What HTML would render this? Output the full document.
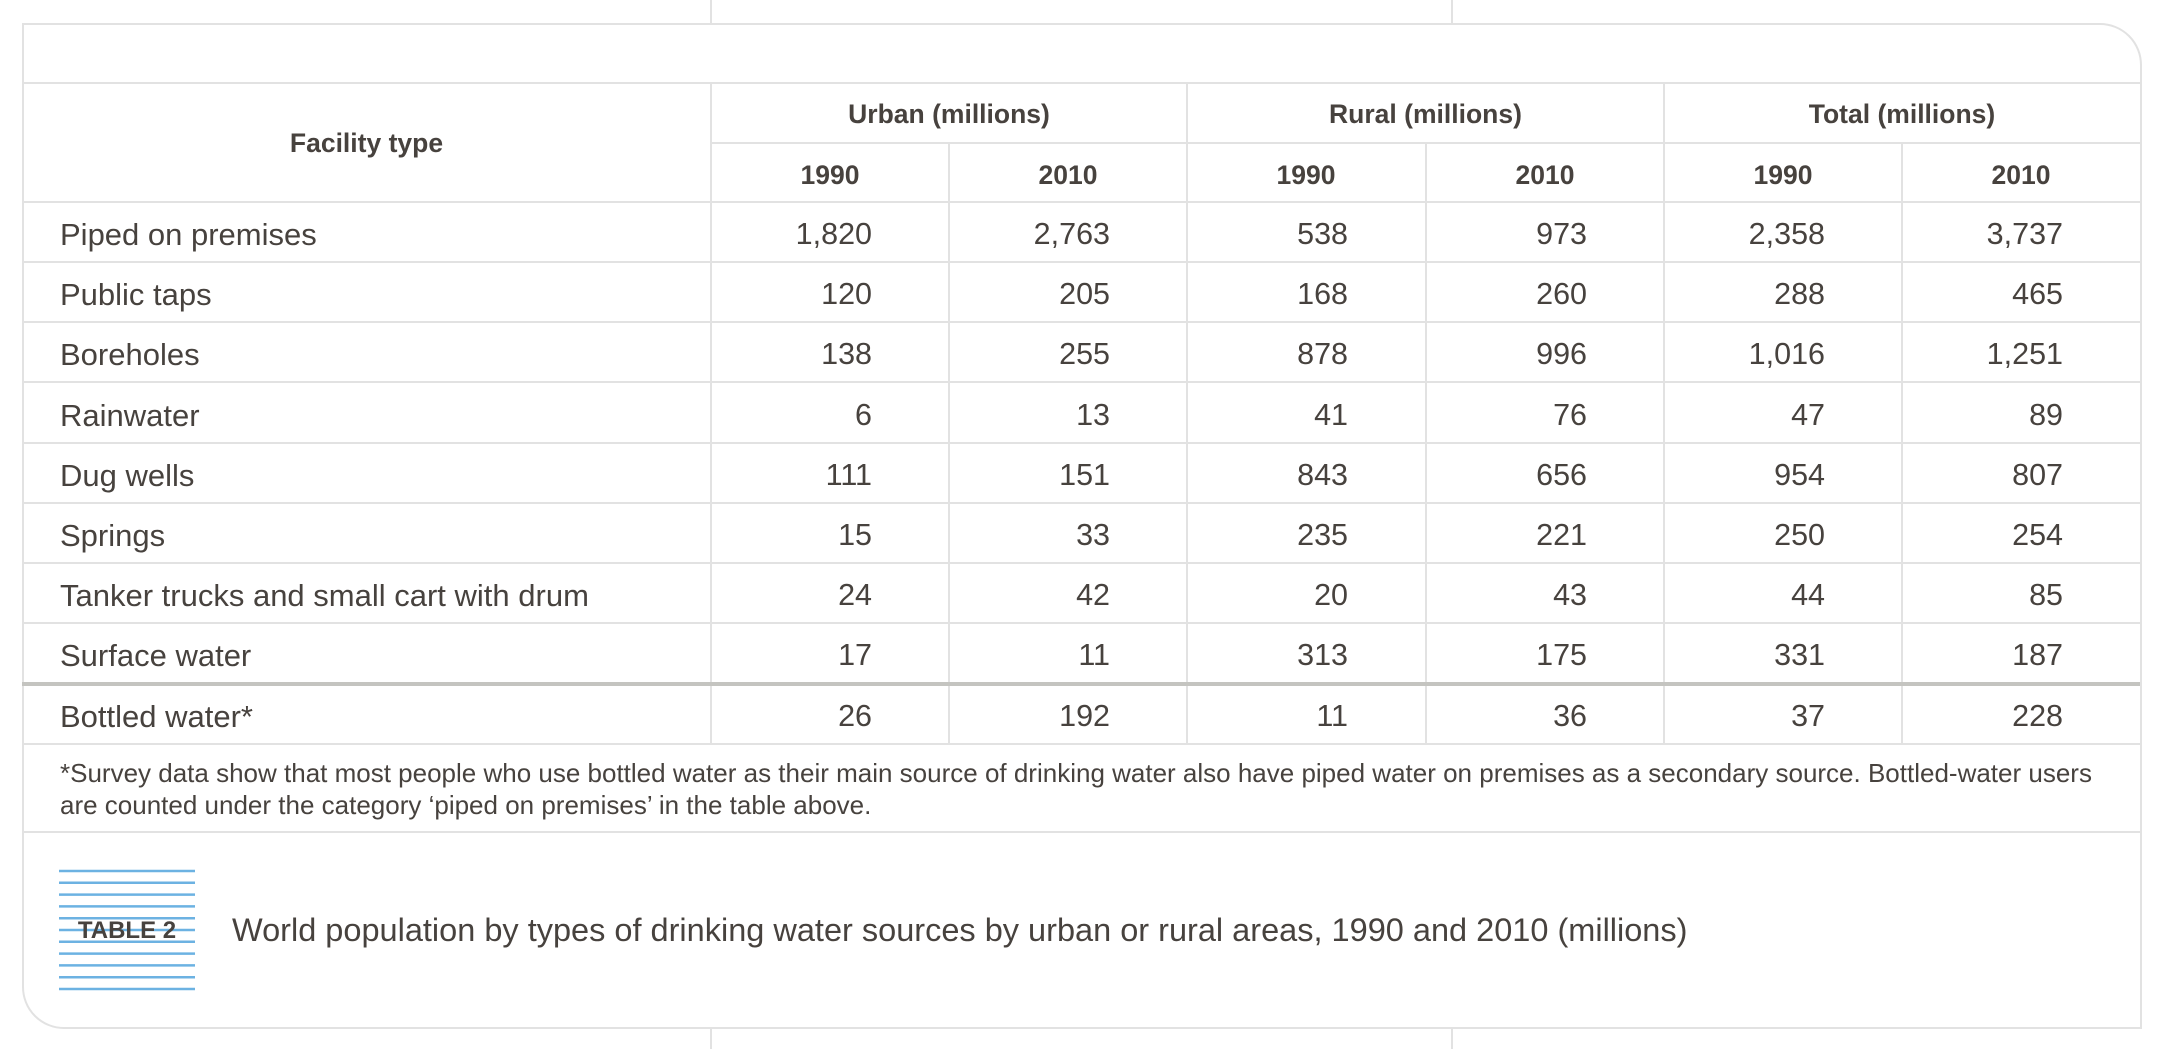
<!DOCTYPE html>
<html><head><meta charset="utf-8"><style>
body{margin:0;width:2159px;height:1049px;background:#fff;position:relative;overflow:hidden;font-family:"Liberation Sans",sans-serif;color:#47423e}
.a{position:absolute}
.vl{position:absolute;width:2px;background:#e2e2e2}
.hl{position:absolute;height:2px;background:#e2e2e2}
.t{position:absolute;white-space:nowrap;line-height:1}
.h{font-weight:bold;font-size:26.5px;text-align:center}
.c{font-size:30.5px}
</style></head><body>
<div class="vl" style="left:710px;top:0;height:23px"></div>
<div class="vl" style="left:1451px;top:0;height:23px"></div>
<div class="vl" style="left:710px;top:1027px;height:22px"></div>
<div class="vl" style="left:1451px;top:1027px;height:22px"></div>
<div class="a" style="left:22px;top:23px;width:2116px;height:1002px;border:2px solid #e2e2e2;border-radius:0 42px 0 42px"></div>
<div id="tbl"></div>
<div class="t" style="left:60px;top:757px;font-size:26px;line-height:32px">*Survey data show that most people who use bottled water as their main source of drinking water also have piped water on premises as a secondary source. Bottled-water users<br>are counted under the category ‘piped on premises’ in the table above.</div>
<svg class="a" style="left:59px;top:865px" width="136" height="130">
<g stroke="#6cb2e2" stroke-width="2.5" id="ic"></g>
</svg>
<div class="t" style="left:59px;width:136px;text-align:center;top:919px;font-size:24px;font-weight:bold">TABLE 2</div>
<div class="t" style="left:232px;top:914px;font-size:32.5px">World population by types of drinking water sources by urban or rural areas, 1990 and 2010 (millions)</div>
<script>
const facilities=["Piped on premises","Public taps","Boreholes","Rainwater","Dug wells","Springs","Tanker trucks and small cart with drum","Surface water","Bottled water*"];
const urban1990=["1,820","120","138","6","111","15","24","17","26"];
const urban2010=["2,763","205","255","13","151","33","42","11","192"];
const rural1990=["538","168","878","41","843","235","20","313","11"];
const rural2010=["973","260","996","76","656","221","43","175","36"];
const total1990=["2,358","288","1,016","47","954","250","44","331","37"];
const total2010=["3,737","465","1,251","89","807","254","85","187","228"];
const groups=["Urban (millions)","Rural (millions)","Total (millions)"];
const years=["1990","2010"];
const T=document.getElementById('tbl');
function add(cls,style,txt,name){const d=document.createElement('div');d.className=cls;d.setAttribute('style',style);if(txt!==undefined)d.textContent=txt;


T.appendChild(d);return d;}
const L=22,R=2140,colX=[711,949,1187,1426,1664,1902,2140];
add('hl',`left:${L}px;top:82px;width:${R-L}px`,undefined,'header-top-line');
add('hl',`left:${colX[0]}px;top:142px;width:${R-colX[0]}px`,undefined,'group-line');
add('hl',`left:${L}px;top:201px;width:${R-L}px`,undefined,'header-bottom-line');
add('t h',`left:${L}px;width:${colX[0]-L}px;top:130px`,'Facility type','facility-type-header');
groups.forEach((g,i)=>{add('t h',`left:${colX[i*2]}px;width:${colX[i*2+2]-colX[i*2]}px;top:101px`,g,'group-header');
add('vl',`left:${colX[i*2]-1}px;top:82px;height:${744-82}px`,undefined,'group-divider');
add('vl',`left:${colX[i*2+1]-1}px;top:142px;height:${744-142}px`,undefined,'year-divider');
years.forEach((y,j)=>add('t h',`left:${colX[i*2+j]}px;width:238px;top:162px`,y,'year-header'));});
const cols=[urban1990,urban2010,rural1990,rural2010,total1990,total2010];
facilities.forEach((f,r)=>{const top=202+r*60.2;
add('t c',`left:60px;top:${top+17}px;font-size:31px`,f,'facility-label');
cols.forEach((c,k)=>add('t c',`left:${colX[k]}px;width:${238-77}px;text-align:right;top:${top+17}px`,c[r],'value-cell'));
if(r==7)add('a',`left:${L}px;top:${top+59}px;width:${R-L}px;height:4px;background:#c4c4c0`,undefined,'bottled-separator');
else add('hl',`left:${L}px;top:${top+59}px;width:${R-L}px`,undefined,'row-line');});
add('hl',`left:${L}px;top:831px;width:${R-L}px`,undefined,'footnote-bottom-line');
const g=document.getElementById('ic');
for(let i=0;i<11;i++){const l=document.createElementNS('http://www.w3.org/2000/svg','line');


l.setAttribute('x1',0);l.setAttribute('x2',136);l.setAttribute('y1',6+i*11.8);l.setAttribute('y2',6+i*11.8);g.appendChild(l);}
</script>
</body></html>
